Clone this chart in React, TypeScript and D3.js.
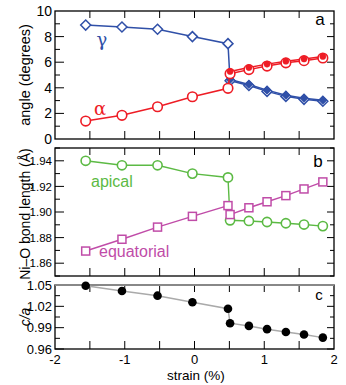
import React from "react";
import * as d3 from "d3";

const xLeft = [-1.56, -1.04, -0.53, -0.03, 0.48];
const xRight = [0.51, 0.78, 1.04, 1.31, 1.57, 1.84];

const gammaLeft = [8.9, 8.75, 8.57, 8.0, 7.45];
const gammaRightOpen = [4.55, 4.18, 3.72, 3.33, 3.1, 2.95];
const gammaRightFilled = [4.65, 4.26, 3.82, 3.42, 3.18, 3.02];

const alphaLeft = [1.4, 1.85, 2.52, 3.3, 3.96];
const alphaRightOpen = [5.1, 5.42, 5.7, 5.95, 6.12, 6.33];
const alphaRightFilled = [5.28, 5.58, 5.85, 6.08, 6.25, 6.45];

const apicalLeft = [1.94, 1.9365, 1.9365, 1.930, 1.927];
const apicalRight = [1.8935, 1.893, 1.8922, 1.8912, 1.8902, 1.889];

const equatorialLeft = [1.8695, 1.8787, 1.8882, 1.8966, 1.905];
const equatorialRight = [1.898, 1.9033, 1.908, 1.9128, 1.918, 1.9235];

const caLeft = [1.049, 1.0415, 1.035, 1.0257, 1.0167];
const caRight = [0.9963, 0.9925, 0.9879, 0.984, 0.9803, 0.976];

const xTicks = [-2, -1, 0, 1, 2];
const yTicksA = [0, 2, 4, 6, 8, 10];
const yTicksB = [1.86, 1.88, 1.9, 1.92, 1.94];
const yTicksC = [0.96, 0.99, 1.02, 1.05];

const BLUE = "#3050a8";
const RED = "#ee1c25";
const GREEN = "#5cba44";
const MAGENTA = "#c04ca8";
const FONT = "'Liberation Sans', Arial, Helvetica, sans-serif";

const L = 55, R = 334;
const x = d3.scaleLinear().domain([-2, 2]).range([L, R]);
const yA = d3.scaleLinear().domain([0, 10]).range([139, 11]);
const yB = d3.scaleLinear().domain([1.85, 1.95]).range([276, 148]);
const yC = d3.scaleLinear().domain([0.96, 1.05]).range([349, 285]);

const zip = (xs: number[], ys: number[]) => xs.map((v, i) => [v, ys[i]] as [number, number]);

function Frame({ y, major, minor, labels, fmt, fs, topColor }: any) {
  const [y0, y1] = y.range();
  const xt = d3.range(-1.5, 2, 0.5);
  return (
    <g>
      {xt.map((t: number) => (
        <g key={"x" + t}>
          <line x1={x(t)} x2={x(t)} y1={y0} y2={y0 - 8} stroke="#000" strokeWidth={1} />
          <line x1={x(t)} x2={x(t)} y1={y1} y2={y1 + 7} stroke="#000" strokeWidth={1} />
        </g>
      ))}
      {minor.map((t: number) => (
        <g key={"m" + t}>
          <line x1={L} x2={L + 5} y1={y(t)} y2={y(t)} stroke="#000" strokeWidth={1} />
          <line x1={R} x2={R - 4} y1={y(t)} y2={y(t)} stroke="#000" strokeWidth={1} />
        </g>
      ))}
      {major.map((t: number) => (
        <g key={"M" + t}>
          <line x1={L} x2={L + 9} y1={y(t)} y2={y(t)} stroke="#000" strokeWidth={1} />
          <line x1={R} x2={R - 7} y1={y(t)} y2={y(t)} stroke="#000" strokeWidth={1} />
        </g>
      ))}
      {labels.map((t: number) => (
        <text key={"l" + t} x={52} y={y(t)} dy="0.36em" textAnchor="end" fontSize={fs} fontFamily={FONT}>
          {fmt(t)}
        </text>
      ))}
      <rect x={L} y={y1} width={R - L} height={y0 - y1} fill="none" stroke="#000" strokeWidth={1.3} />
      {topColor && <line x1={L} x2={R} y1={y1} y2={y1} stroke={topColor} strokeWidth={2.2} />}
    </g>
  );
}

const circle = (pts: [number, number][], y: any, color: string, r: number, filled: boolean, sw = 1.6) =>
  pts.map(([a, b], i) => (
    <circle key={i} cx={x(a)} cy={y(b)} r={r} fill={filled ? color : "#fff"} stroke={color} strokeWidth={sw} />
  ));

const diamond = (pts: [number, number][], y: any, color: string, s: number, fill: string, sw = 1.5) =>
  pts.map(([a, b], i) => {
    const cx = x(a), cy = y(b);
    return (
      <path key={i} d={`M${cx},${cy - s}L${cx + s},${cy}L${cx},${cy + s}L${cx - s},${cy}Z`}
        fill={fill} stroke={color} strokeWidth={sw} />
    );
  });

const square = (pts: [number, number][], y: any, color: string, s: number) =>
  pts.map(([a, b], i) => (
    <rect key={i} x={x(a) - s} y={y(b) - s} width={2 * s} height={2 * s} fill="#fff" stroke={color} strokeWidth={1.5} />
  ));

export default function App() {
  const lineA = d3.line<[number, number]>().x(d => x(d[0])).y(d => yA(d[1]));
  const lineB = d3.line<[number, number]>().x(d => x(d[0])).y(d => yB(d[1]));
  const lineC = d3.line<[number, number]>().x(d => x(d[0])).y(d => yC(d[1]));

  const gammaAll = zip(xLeft.concat(xRight), gammaLeft.concat(gammaRightOpen));
  const gammaF = zip(xRight, gammaRightFilled);
  const alphaAll = zip(xLeft.concat(xRight), alphaLeft.concat(alphaRightOpen));
  const alphaF = zip(xRight, alphaRightFilled);
  const apAll = zip(xLeft.concat(xRight), apicalLeft.concat(apicalRight));
  const eqAll = zip(xLeft.concat(xRight), equatorialLeft.concat(equatorialRight));
  const caAll = zip(xLeft.concat(xRight), caLeft.concat(caRight));

  return (
    <svg width={346} height={385} style={{ position: "absolute", left: 0, top: 0, background: "#fff" }}>
      <rect width={346} height={385} fill="#fff" />
      {/* Panel a */}
      <Frame y={yA} major={[2, 4, 6, 8]} minor={[1, 3, 5, 7, 9]} labels={yTicksA} fmt={(t: number) => String(t)} fs={14} />
      <path d={lineA(gammaAll) || ""} fill="none" stroke={BLUE} strokeWidth={1.5} />
      <path d={lineA(gammaF) || ""} fill="none" stroke={BLUE} strokeWidth={1.5} />
      {diamond(gammaAll, yA, BLUE, 5, "#fff")}
      {diamond(gammaF, yA, BLUE, 4, BLUE, 1)}
      <path d={lineA(alphaAll) || ""} fill="none" stroke={RED} strokeWidth={1.5} />
      <path d={lineA(alphaF) || ""} fill="none" stroke={RED} strokeWidth={1.5} />
      {circle(alphaAll, yA, RED, 4.8, false)}
      {circle(alphaF, yA, RED, 3.1, true, 0.5)}
      <text x={102} y={46} fontSize={18} fill={BLUE} fontFamily="'DejaVu Serif', serif" textAnchor="middle">γ</text>
      <text x={100} y={115} fontSize={18} fill={RED} fontFamily="'DejaVu Serif', serif" textAnchor="middle">α</text>
      <text x={320} y={25} fontSize={17} fontFamily={FONT} textAnchor="middle">a</text>

      {/* Panel b */}
      <Frame y={yB} major={yTicksB} minor={[1.85, 1.87, 1.89, 1.91, 1.93, 1.95]} labels={yTicksB} fmt={d3.format(".2f")} fs={11.5} />
      <path d={lineB(apAll) || ""} fill="none" stroke={GREEN} strokeWidth={1.4} />
      {circle(apAll, yB, GREEN, 4.6, false)}
      <path d={lineB(eqAll) || ""} fill="none" stroke={MAGENTA} strokeWidth={1.4} />
      {square(eqAll, yB, MAGENTA, 4)}
      <text x={91} y={187} fontSize={16} fill={GREEN} fontFamily={FONT}>apical</text>
      <text x={99} y={257} fontSize={16} fill={MAGENTA} fontFamily={FONT}>equatorial</text>
      <text x={318} y={167} fontSize={17} fontFamily={FONT} textAnchor="middle">b</text>

      {/* Panel c */}
      <Frame y={yC} major={yTicksC} minor={[0.975, 1.005, 1.035]} labels={yTicksC} fmt={d3.format(".2f")} fs={13} topColor="#888" />
      <path d={lineC(caAll) || ""} fill="none" stroke="#aaa" strokeWidth={1.5} />
      {caAll.map(([a, b], i) => (
        <circle key={i} cx={x(a)} cy={yC(b)} r={4.3} fill="#000" />
      ))}
      <text x={319} y={300} fontSize={15} fontFamily={FONT} textAnchor="middle">c</text>

      {/* x axis labels */}
      {xTicks.map(t => (
        <text key={t} x={x(t)} y={364} fontSize={13} textAnchor="middle" fontFamily={FONT}>
          {String(t)}
        </text>
      ))}
      <text x={196} y={380} fontSize={13.5} textAnchor="middle" fontFamily={FONT}>strain (%)</text>

      {/* y labels */}
      <text transform="translate(30,75) rotate(-90)" fontSize={14.5} textAnchor="middle" fontFamily={FONT}>angle (degrees)</text>
      <text transform="translate(30,214) rotate(-90)" fontSize={14} textAnchor="middle" fontFamily={FONT}>Ni–O bond length (Å)</text>
      <text transform="translate(30,317) rotate(-90)" fontSize={14} textAnchor="middle" fontFamily={FONT} fontStyle="italic">c/a</text>
    </svg>
  );
}
